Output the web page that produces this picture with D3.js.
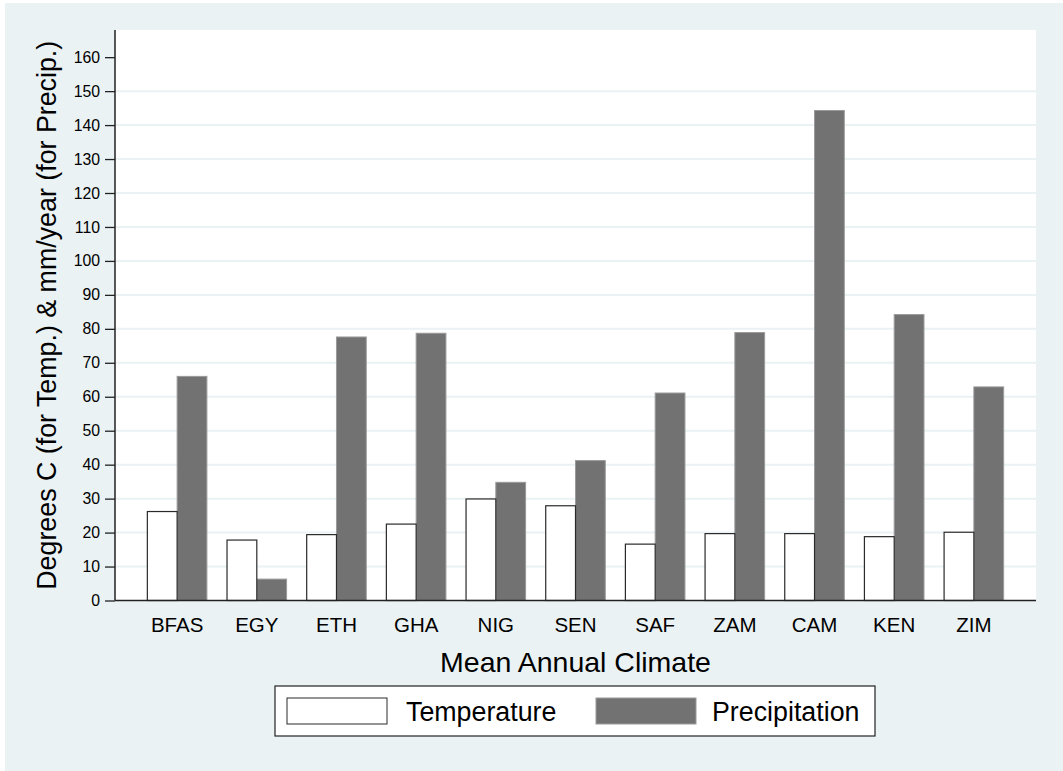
<!DOCTYPE html>
<html>
<head>
<meta charset="utf-8">
<script src="https://cdn.jsdelivr.net/npm/d3@7"></script>
<style>
  html, body { margin: 0; padding: 0; background: #ffffff; }
  svg { display: block; }
  text { font-family: "Liberation Sans", Arial, sans-serif; fill: #000; }
</style>
</head>
<body>
<svg id="chart" width="1063" height="771"></svg>
<script>
// ---- data ----
const categories = ["BFAS", "EGY", "ETH", "GHA", "NIG", "SEN", "SAF", "ZAM", "CAM", "KEN", "ZIM"];
const temperature = [26.2, 17.8, 19.4, 22.5, 29.9, 27.9, 16.6, 19.7, 19.7, 18.8, 20.1];
const precipitation = [66.0, 6.3, 77.6, 78.7, 34.8, 41.2, 61.1, 78.9, 144.3, 84.2, 62.9];
const seriesNames = ["Temperature", "Precipitation"];
const yTicks = [0, 10, 20, 30, 40, 50, 60, 70, 80, 90, 100, 110, 120, 130, 140, 150, 160];
const yTitle = "Degrees C (for Temp.) & mm/year (for Precip.)";
const xTitle = "Mean Annual Climate";

// ---- layout ----
const W = 1063, H = 771;
const plot = { left: 115, right: 1036, top: 30, bottom: 600.5 };
const bg = "#eaf2f3";
const svg = d3.select("#chart");

svg.append("rect").attr("x", 5).attr("y", 3).attr("width", W - 5).attr("height", H - 3).attr("fill", bg);
svg.append("rect").attr("x", plot.left).attr("y", plot.top)
  .attr("width", plot.right - plot.left).attr("height", plot.bottom - plot.top).attr("fill", "#ffffff");

const x = d3.scaleBand().domain(categories).range([plot.left, plot.right])
  .paddingInner(0.2525).paddingOuter(0.406);
const xs = d3.scaleBand().domain(seriesNames).range([0, x.bandwidth()]).padding(0);
const y = d3.scaleLinear().domain([0, 168]).range([plot.bottom, plot.top]);

// gridlines
svg.append("g").selectAll("line").data(yTicks.filter(t => t > 0 && t < 160)).join("line")
  .attr("x1", plot.left).attr("x2", plot.right)
  .attr("y1", d => y(d)).attr("y2", d => y(d))
  .attr("stroke", bg).attr("stroke-width", 2);

// bars
const rows = categories.map((c, i) => ({ c, Temperature: temperature[i], Precipitation: precipitation[i] }));
const groups = svg.append("g").selectAll("g").data(rows).join("g")
  .attr("transform", d => `translate(${x(d.c)},0)`);
groups.append("rect")
  .attr("x", xs("Precipitation")).attr("width", xs.bandwidth())
  .attr("y", d => y(d.Precipitation)).attr("height", d => y(0) - y(d.Precipitation))
  .attr("fill", "#727272").attr("stroke", "#9a9a9a").attr("stroke-width", 1);
groups.append("rect")
  .attr("x", xs("Temperature")).attr("width", xs.bandwidth())
  .attr("y", d => y(d.Temperature)).attr("height", d => y(0) - y(d.Temperature))
  .attr("fill", "#ffffff").attr("stroke", "#2a2a2a").attr("stroke-width", 1.2);

// y axis
const yAxis = d3.axisLeft(y).tickValues(yTicks).tickSize(10).tickPadding(5);
const gy = svg.append("g").attr("transform", `translate(${plot.left},0)`).call(yAxis);
gy.select(".domain").attr("d", `M0,${plot.top}V${plot.bottom}`).attr("stroke", "#222").attr("stroke-width", 1.5);
gy.selectAll(".tick line").attr("stroke", "#222").attr("stroke-width", 1.3);
gy.selectAll(".tick text").attr("font-size", 15.8).attr("font-family", "Liberation Sans, Arial, sans-serif").attr("fill", "#000");

// x axis
const xAxis = d3.axisBottom(x).tickSize(0).tickPadding(0);
const gx = svg.append("g").attr("transform", `translate(0,${plot.bottom})`).call(xAxis);
gx.select(".domain").attr("d", `M${plot.left},0H${plot.right}`).attr("stroke", "#222").attr("stroke-width", 1.5);
gx.selectAll(".tick text").attr("font-size", 20.5).attr("dy", null).attr("y", 31.5)
  .attr("font-family", "Liberation Sans, Arial, sans-serif").attr("fill", "#000");

// axis titles
svg.append("text").attr("transform", `translate(56,${(plot.top + plot.bottom) / 2}) rotate(-90)`)
  .attr("text-anchor", "middle").attr("font-size", 26.8).text(yTitle);
svg.append("text").attr("x", (plot.left + plot.right) / 2).attr("y", 672)
  .attr("text-anchor", "middle").attr("font-size", 28.5).text(xTitle);

// legend
const lg = svg.append("g");
lg.append("rect").attr("x", 275).attr("y", 686).attr("width", 600).attr("height", 50)
  .attr("fill", "#ffffff").attr("stroke", "#222").attr("stroke-width", 1.2);
const legendItems = [
  { name: seriesNames[0], sx: 287, tx: 406, fill: "#ffffff", stroke: "#2a2a2a" },
  { name: seriesNames[1], sx: 596, tx: 712, fill: "#727272", stroke: "#9a9a9a" }
];
legendItems.forEach(it => {
  lg.append("rect").attr("x", it.sx).attr("y", 698).attr("width", 100).attr("height", 26)
    .attr("fill", it.fill).attr("stroke", it.stroke).attr("stroke-width", 1);
  lg.append("text").attr("x", it.tx).attr("y", 720.5).attr("font-size", 26.8).text(it.name);
});
</script>
</body>
</html>
